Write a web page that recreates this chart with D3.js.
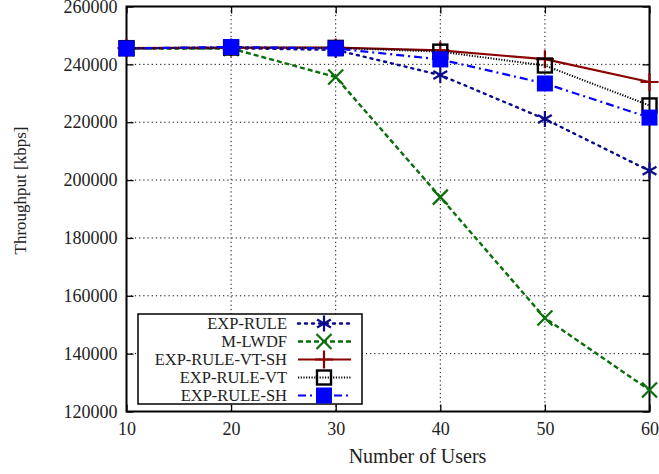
<!DOCTYPE html>
<html><head><meta charset="utf-8">
<script src="https://cdn.jsdelivr.net/npm/d3@7"></script>
<style>body{margin:0;background:#fff}svg{display:block}text{font-family:"Liberation Serif","Times New Roman",serif;fill:#222}</style>
</head><body>
<script>
const users = [10, 20, 30, 40, 50, 60];
const expRule   = [245500, 245600, 245000, 236300, 221100, 203200];
const mLwdf     = [245500, 245500, 235600, 194100, 152300, 127400];
const expVtSh   = [245600, 245800, 245800, 244800, 241800, 233900];
const expVt     = [245600, 245800, 245700, 244400, 239600, 225800];
const expSh     = [245500, 246000, 245500, 241700, 233400, 221600];
const seriesNames = ["EXP-RULE", "M-LWDF", "EXP-RULE-VT-SH", "EXP-RULE-VT", "EXP-RULE-SH"];
const xTicks = [10, 20, 30, 40, 50, 60];
const yTicks = [120000, 140000, 160000, 180000, 200000, 220000, 240000, 260000];

const W = 659, H = 474;
const m = {l: 126.5, r: 649.5, t: 6.5, b: 411.5};
const svg = d3.select("body").append("svg").attr("width", W).attr("height", H);
const x = d3.scaleLinear().domain([10, 60]).range([m.l, m.r]);
const y = d3.scaleLinear().domain([120000, 260000]).range([m.b, m.t]);

// grid
const grid = svg.append("g").attr("stroke", "#000").attr("stroke-width", 1).attr("stroke-dasharray", "1.2,3");
grid.selectAll(".gy").data(yTicks.slice(1, -1)).join("line")
  .attr("x1", m.l).attr("x2", m.r).attr("y1", d => y(d)).attr("y2", d => y(d));
grid.selectAll(".gx").data(xTicks.slice(1, -1)).join("line")
  .attr("y1", m.t).attr("y2", m.b).attr("x1", d => x(d)).attr("x2", d => x(d));

// axes
const fs = 18;
const axL = svg.append("g").attr("transform", `translate(${m.l},0)`)
  .call(d3.axisLeft(y).tickValues(yTicks).tickSize(-7).tickPadding(9).tickFormat(d3.format("d")));
const axR = svg.append("g").attr("transform", `translate(${m.r},0)`)
  .call(d3.axisRight(y).tickValues(yTicks).tickSize(-7).tickFormat(""));
const axB = svg.append("g").attr("transform", `translate(0,${m.b})`)
  .call(d3.axisBottom(x).tickValues(xTicks).tickSize(-7).tickPadding(11).tickFormat(d3.format("d")));
const axT = svg.append("g").attr("transform", `translate(0,${m.t})`)
  .call(d3.axisTop(x).tickValues(xTicks).tickSize(-7).tickFormat(""));
[axL, axR, axB, axT].forEach(a => {
  a.select(".domain").remove();
  a.selectAll("line").attr("stroke", "#000").attr("stroke-width", 1.3);
  a.selectAll("text").style("font-family", "Liberation Serif, serif").style("font-size", fs + "px").attr("fill", "#222");
});
svg.append("rect").attr("x", m.l).attr("y", m.t).attr("width", m.r - m.l).attr("height", m.b - m.t)
  .attr("fill", "none").attr("stroke", "#000").attr("stroke-width", 2);

svg.append("text").attr("x", 417.5).attr("y", 463).attr("text-anchor", "middle")
  .style("font-size", "20px").text("Number of Users");
svg.append("text").attr("transform", `translate(26,190.5) rotate(-90)`).attr("text-anchor", "middle")
  .style("font-size", "17px").text("Throughput [kbps]");

// markers
function drawMarker(g, type, cx, cy, color) {
  if (type === "star") {
    const r = 8;
    for (let k = 0; k < 3; k++) {
      const a = Math.PI / 2 + k * Math.PI / 3;
      g.append("line").attr("x1", cx - r * Math.cos(a)).attr("y1", cy - r * Math.sin(a))
        .attr("x2", cx + r * Math.cos(a)).attr("y2", cy + r * Math.sin(a))
        .attr("stroke", color).attr("stroke-width", 2.2);
    }
  } else if (type === "x") {
    const r = 7.5;
    g.append("path").attr("d", `M${cx - r},${cy - r}L${cx + r},${cy + r}M${cx - r},${cy + r}L${cx + r},${cy - r}`)
      .attr("stroke", color).attr("stroke-width", 2.2).attr("fill", "none");
  } else if (type === "plus") {
    const r = 9;
    g.append("path").attr("d", `M${cx - r},${cy}L${cx + r},${cy}M${cx},${cy - r}L${cx},${cy + r}`)
      .attr("stroke", color).attr("stroke-width", 2.2).attr("fill", "none");
  } else if (type === "square") {
    g.append("rect").attr("x", cx - 7).attr("y", cy - 7).attr("width", 14).attr("height", 14)
      .attr("fill", "none").attr("stroke", color).attr("stroke-width", 2.4);
  } else if (type === "fsquare") {
    g.append("rect").attr("x", cx - 8).attr("y", cy - 8).attr("width", 16).attr("height", 16)
      .attr("fill", color).attr("stroke", "none");
  }
}

const series = [
  {name: seriesNames[0], vals: expRule, color: "#0b0b8c", dash: "2,5", width: 2.4, cap: "round", marker: "star"},
  {name: seriesNames[1], vals: mLwdf, color: "#0a6e0a", dash: "5,3", width: 2.4, cap: "butt", marker: "x"},
  {name: seriesNames[2], vals: expVtSh, color: "#8b0000", dash: null, width: 2.2, cap: "butt", marker: "plus"},
  {name: seriesNames[3], vals: expVt, color: "#000", dash: "1.2,1.5", width: 2, cap: "butt", marker: "square"},
  {name: seriesNames[4], vals: expSh, color: "#0000ff", dash: "8,4,2,4", width: 2.2, cap: "butt", marker: "fsquare"},
];

const line = d3.line().x((d, i) => x(users[i])).y(d => y(d));
series.forEach(s => {
  const g = svg.append("g");
  g.append("path").attr("d", line(s.vals)).attr("fill", "none").attr("stroke", s.color)
    .attr("stroke-width", s.width).attr("stroke-dasharray", s.dash).attr("stroke-linecap", s.cap);
  s.vals.forEach((v, i) => drawMarker(g, s.marker, x(users[i]), y(v), s.color));
});

// legend
const lg = svg.append("g");
lg.append("rect").attr("x", 138).attr("y", 314).attr("width", 224).attr("height", 90)
  .attr("fill", "#fff").attr("stroke", "#000").attr("stroke-width", 1.5);
series.forEach((s, i) => {
  const cy = 323.5 + i * 18;
  lg.append("text").attr("x", 287).attr("y", cy).attr("dy", "0.35em").attr("text-anchor", "end")
    .style("font-size", "16.5px").attr("textLength", null).text(s.name);
  lg.append("line").attr("x1", 298).attr("x2", 351).attr("y1", cy).attr("y2", cy)
    .attr("stroke", s.color).attr("stroke-width", s.width).attr("stroke-dasharray", s.dash).attr("stroke-linecap", s.cap);
  drawMarker(lg, s.marker, 324, cy, s.color);
});
</script>
</body></html>
